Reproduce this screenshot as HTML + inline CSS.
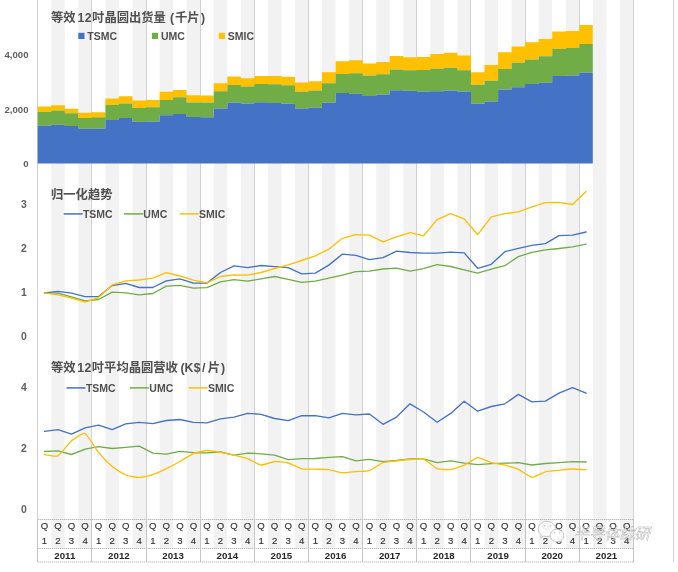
<!DOCTYPE html>
<html lang="zh-CN"><head><meta charset="utf-8"><title>晶圆出货量与营收趋势</title>
<style>
html,body{margin:0;padding:0;background:#fff}
body{width:678px;height:572px;overflow:hidden}
svg{display:block}
text{font-family:"Liberation Sans","Noto Sans CJK SC",sans-serif}
.ttl{font-size:12.3px;font-weight:700;fill:#505050}
.lg{font-size:10.5px;font-weight:700;fill:#505050}
.yl{font-size:9.6px;font-weight:700;fill:#5f5f5f;text-anchor:end}
.qx{font-size:9.6px;fill:#333;stroke:#333;stroke-width:.15;text-anchor:middle}
.yr{font-size:9.7px;font-weight:700;fill:#262626;text-anchor:middle}
.ln{fill:none;stroke-width:1.35;stroke-linejoin:round;stroke-linecap:round}
.ax{stroke:#a0a0a0;stroke-width:1;stroke-dasharray:1 1;fill:none}
.wm{font-family:"Noto Sans CJK SC","Liberation Sans",sans-serif;font-size:15.2px;font-weight:400;fill:#fff;stroke:#9e9e9e;stroke-width:.45;opacity:.92}
</style></head><body>
<svg width="678" height="572" viewBox="0 0 678 572">
<rect width="678" height="572" fill="#fff"/>

<g fill="#f2f2f2">
<rect x="51.2" y="0" width="13.5" height="548"/>
<rect x="78.3" y="0" width="13.5" height="548"/>
<rect x="105.4" y="0" width="13.5" height="548"/>
<rect x="132.5" y="0" width="13.5" height="548"/>
<rect x="159.6" y="0" width="13.5" height="548"/>
<rect x="186.6" y="0" width="13.5" height="548"/>
<rect x="213.7" y="0" width="13.5" height="548"/>
<rect x="240.8" y="0" width="13.5" height="548"/>
<rect x="267.9" y="0" width="13.5" height="548"/>
<rect x="295" y="0" width="13.5" height="548"/>
<rect x="322" y="0" width="13.5" height="548"/>
<rect x="349.1" y="0" width="13.5" height="548"/>
<rect x="376.2" y="0" width="13.5" height="548"/>
<rect x="403.3" y="0" width="13.5" height="548"/>
<rect x="430.4" y="0" width="13.5" height="548"/>
<rect x="457.4" y="0" width="13.5" height="548"/>
<rect x="484.5" y="0" width="13.5" height="548"/>
<rect x="511.6" y="0" width="13.5" height="548"/>
<rect x="538.7" y="0" width="13.5" height="548"/>
<rect x="565.8" y="0" width="13.5" height="548"/>
<rect x="592.8" y="0" width="13.5" height="548"/>
<rect x="619.9" y="0" width="13.5" height="548"/>
</g>
<g stroke="#d2d2d2" stroke-width="1">
<line x1="37.5" y1="0" x2="37.5" y2="519"/>
<line x1="91.5" y1="0" x2="91.5" y2="519"/>
<line x1="146.5" y1="0" x2="146.5" y2="519"/>
<line x1="200.5" y1="0" x2="200.5" y2="519"/>
<line x1="254.5" y1="0" x2="254.5" y2="519"/>
<line x1="308.5" y1="0" x2="308.5" y2="519"/>
<line x1="362.5" y1="0" x2="362.5" y2="519"/>
<line x1="416.5" y1="0" x2="416.5" y2="519"/>
<line x1="470.5" y1="0" x2="470.5" y2="519"/>
<line x1="525.5" y1="0" x2="525.5" y2="519"/>
<line x1="579.5" y1="0" x2="579.5" y2="519"/>
<line x1="633.5" y1="0" x2="633.5" y2="519"/>
<line x1="673.5" y1="0" x2="673.5" y2="562"/>
</g>
<polygon fill="#FFC000" points="37.7,106.6 51.2,106.6 51.2,105.3 64.8,105.3 64.8,108.8 78.3,108.8 78.3,112.8 91.9,112.8 91.9,112.3 105.4,112.3 105.4,98.6 118.9,98.6 118.9,96.3 132.5,96.3 132.5,100.6 146,100.6 146,99.9 159.6,99.9 159.6,91.7 173.1,91.7 173.1,90 186.6,90 186.6,95.3 200.2,95.3 200.2,95.4 213.7,95.4 213.7,83.3 227.3,83.3 227.3,76.6 240.8,76.6 240.8,78.2 254.3,78.2 254.3,76 267.9,76 267.9,76 281.4,76 281.4,76.7 295,76.7 295,82.5 308.5,82.5 308.5,81.2 322,81.2 322,72.3 335.6,72.3 335.6,61.3 349.1,61.3 349.1,60.2 362.7,60.2 362.7,63.4 376.2,63.4 376.2,61.9 389.7,61.9 389.7,55.9 403.3,55.9 403.3,57.3 416.8,57.3 416.8,57 430.4,57 430.4,54 443.9,54 443.9,52.7 457.4,52.7 457.4,55.6 471,55.6 471,72.2 484.5,72.2 484.5,64.9 498.1,64.9 498.1,52.3 511.6,52.3 511.6,46.4 525.1,46.4 525.1,42.2 538.7,42.2 538.7,38.9 552.2,38.9 552.2,31.6 565.8,31.6 565.8,30.9 579.3,30.9 579.3,25 592.8,25 592.8,43.9 579.3,43.9 579.3,47.9 565.8,47.9 565.8,48.9 552.2,48.9 552.2,56.2 538.7,56.2 538.7,59.5 525.1,59.5 525.1,62.8 511.6,62.8 511.6,68.9 498.1,68.9 498.1,80.8 484.5,80.8 484.5,84.8 471,84.8 471,70.2 457.4,70.2 457.4,67.7 443.9,67.7 443.9,68.8 430.4,68.8 430.4,69.9 416.8,69.9 416.8,70.3 403.3,70.3 403.3,69.5 389.7,69.5 389.7,74.2 376.2,74.2 376.2,75.5 362.7,75.5 362.7,73.2 349.1,73.2 349.1,73.9 335.6,73.9 335.6,83.2 322,83.2 322,90.5 308.5,90.5 308.5,91.8 295,91.8 295,85.2 281.4,85.2 281.4,84.3 267.9,84.3 267.9,83.9 254.3,83.9 254.3,86.6 240.8,86.6 240.8,84.9 227.3,84.9 227.3,91.2 213.7,91.2 213.7,102.5 200.2,102.5 200.2,102.6 186.6,102.6 186.6,97.3 173.1,97.3 173.1,99.9 159.6,99.9 159.6,107.2 146,107.2 146,107.9 132.5,107.9 132.5,103.6 118.9,103.6 118.9,104.9 105.4,104.9 105.4,117.2 91.9,117.2 91.9,117.9 78.3,117.9 78.3,113.2 64.8,113.2 64.8,110.6 51.2,110.6 51.2,111.9 37.7,111.9"/>
<polygon fill="#70AD47" points="37.7,111.9 51.2,111.9 51.2,110.6 64.8,110.6 64.8,113.2 78.3,113.2 78.3,117.9 91.9,117.9 91.9,117.2 105.4,117.2 105.4,104.9 118.9,104.9 118.9,103.6 132.5,103.6 132.5,107.9 146,107.9 146,107.2 159.6,107.2 159.6,99.9 173.1,99.9 173.1,97.3 186.6,97.3 186.6,102.6 200.2,102.6 200.2,102.5 213.7,102.5 213.7,91.2 227.3,91.2 227.3,84.9 240.8,84.9 240.8,86.6 254.3,86.6 254.3,83.9 267.9,83.9 267.9,84.3 281.4,84.3 281.4,85.2 295,85.2 295,91.8 308.5,91.8 308.5,90.5 322,90.5 322,83.2 335.6,83.2 335.6,73.9 349.1,73.9 349.1,73.2 362.7,73.2 362.7,75.5 376.2,75.5 376.2,74.2 389.7,74.2 389.7,69.5 403.3,69.5 403.3,70.3 416.8,70.3 416.8,69.9 430.4,69.9 430.4,68.8 443.9,68.8 443.9,67.7 457.4,67.7 457.4,70.2 471,70.2 471,84.8 484.5,84.8 484.5,80.8 498.1,80.8 498.1,68.9 511.6,68.9 511.6,62.8 525.1,62.8 525.1,59.5 538.7,59.5 538.7,56.2 552.2,56.2 552.2,48.9 565.8,48.9 565.8,47.9 579.3,47.9 579.3,43.9 592.8,43.9 592.8,72.7 579.3,72.7 579.3,75.4 565.8,75.4 565.8,76.1 552.2,76.1 552.2,82.7 538.7,82.7 538.7,84 525.1,84 525.1,87.3 511.6,87.3 511.6,89.4 498.1,89.4 498.1,101.4 484.5,101.4 484.5,103.8 471,103.8 471,91.4 457.4,91.4 457.4,90.5 443.9,90.5 443.9,91.2 430.4,91.2 430.4,91.5 416.8,91.5 416.8,90.8 403.3,90.8 403.3,90.2 389.7,90.2 389.7,94.4 376.2,94.4 376.2,96.1 362.7,96.1 362.7,93.8 349.1,93.8 349.1,93.1 335.6,93.1 335.6,102.4 322,102.4 322,107.7 308.5,107.7 308.5,108.4 295,108.4 295,103.8 281.4,103.8 281.4,102.9 267.9,102.9 267.9,102.3 254.3,102.3 254.3,103.5 240.8,103.5 240.8,102.5 227.3,102.5 227.3,108.5 213.7,108.5 213.7,117.3 200.2,117.3 200.2,116.9 186.6,116.9 186.6,113.9 173.1,113.9 173.1,115.2 159.6,115.2 159.6,121.4 146,121.4 146,121.8 132.5,121.8 132.5,118 118.9,118 118.9,119.9 105.4,119.9 105.4,128.8 91.9,128.8 91.9,128.8 78.3,128.8 78.3,126.1 64.8,126.1 64.8,124.8 51.2,124.8 51.2,125.8 37.7,125.8"/>
<polygon fill="#4472C4" points="37.7,125.8 51.2,125.8 51.2,124.8 64.8,124.8 64.8,126.1 78.3,126.1 78.3,128.8 91.9,128.8 91.9,128.8 105.4,128.8 105.4,119.9 118.9,119.9 118.9,118 132.5,118 132.5,121.8 146,121.8 146,121.4 159.6,121.4 159.6,115.2 173.1,115.2 173.1,113.9 186.6,113.9 186.6,116.9 200.2,116.9 200.2,117.3 213.7,117.3 213.7,108.5 227.3,108.5 227.3,102.5 240.8,102.5 240.8,103.5 254.3,103.5 254.3,102.3 267.9,102.3 267.9,102.9 281.4,102.9 281.4,103.8 295,103.8 295,108.4 308.5,108.4 308.5,107.7 322,107.7 322,102.4 335.6,102.4 335.6,93.1 349.1,93.1 349.1,93.8 362.7,93.8 362.7,96.1 376.2,96.1 376.2,94.4 389.7,94.4 389.7,90.2 403.3,90.2 403.3,90.8 416.8,90.8 416.8,91.5 430.4,91.5 430.4,91.2 443.9,91.2 443.9,90.5 457.4,90.5 457.4,91.4 471,91.4 471,103.8 484.5,103.8 484.5,101.4 498.1,101.4 498.1,89.4 511.6,89.4 511.6,87.3 525.1,87.3 525.1,84 538.7,84 538.7,82.7 552.2,82.7 552.2,76.1 565.8,76.1 565.8,75.4 579.3,75.4 579.3,72.7 592.8,72.7 592.8,163.5 37.7,163.5"/>
<polyline class="ln" stroke="#70AD47" points="44.5,292.9 58,293.1 71.5,296.9 85.1,300.8 98.6,299.5 112.2,292.2 125.7,292.8 139.2,294.8 152.8,293.5 166.3,286.2 179.9,285.3 193.4,288.2 206.9,287.6 220.5,281.8 234,279.6 247.6,281.2 261.1,278.8 274.6,276.5 288.2,279.4 301.7,282.4 315.3,281.1 328.8,278.1 342.3,275.1 355.9,271.7 369.4,271.1 383,269 396.5,268.1 410,271.1 423.6,268.7 437.1,264.7 450.7,266.5 464.2,269.9 477.7,273.1 491.3,269.2 504.8,265.7 518.4,256.6 531.9,252.4 545.4,249.9 559,248.5 572.5,246.9 586.1,244.1"/>
<polyline class="ln" stroke="#4472C4" points="44.5,292.9 58,291.3 71.5,293.1 85.1,296.6 98.6,296.6 112.2,285.6 125.7,283.4 139.2,287.5 152.8,287.5 166.3,280.9 179.9,278.9 193.4,283.1 206.9,283.1 220.5,272.5 234,265.9 247.6,267.6 261.1,265.5 274.6,266.6 288.2,267.7 301.7,273.8 315.3,273.1 328.8,265.1 342.3,254.2 355.9,255.4 369.4,259.6 383,257.7 396.5,251.2 410,252.5 423.6,253.1 437.1,253.1 450.7,252.2 464.2,252.9 477.7,268.3 491.3,264.3 504.8,251.7 518.4,248.3 531.9,245.3 545.4,243.6 559,235.7 572.5,235.2 586.1,232"/>
<polyline class="ln" stroke="#FFC000" points="44.5,292.9 58,294.9 71.5,298.2 85.1,302.2 98.6,297.5 112.2,284.9 125.7,280.8 139.2,280 152.8,278.2 166.3,272.7 179.9,276 193.4,280.2 206.9,282.8 220.5,276.5 234,274.8 247.6,275.2 261.1,272.5 274.6,268.5 288.2,264.9 301.7,260.5 315.3,255.8 328.8,249.2 342.3,238.3 355.9,234.6 369.4,235.1 383,241.9 396.5,236.9 410,232.6 423.6,235.8 437.1,219.6 450.7,213.7 464.2,218.9 477.7,234.7 491.3,216.8 504.8,213.7 518.4,211.9 531.9,206.8 545.4,202.7 559,202.4 572.5,204.5 586.1,191.5"/>
<polyline class="ln" stroke="#4472C4" points="44.5,431.4 58,429.6 71.5,434.1 85.1,427.9 98.6,425.1 112.2,429.6 125.7,423.8 139.2,422.3 152.8,423.7 166.3,420.5 179.9,419.5 193.4,422.3 206.9,422.8 220.5,418.9 234,417.1 247.6,413.3 261.1,414.3 274.6,418.5 288.2,420.7 301.7,415.7 315.3,415.7 328.8,417.9 342.3,413.3 355.9,414.8 369.4,414 383,424.3 396.5,417.1 410,403.8 423.6,412 437.1,422.3 450.7,413.4 464.2,401.3 477.7,411.2 491.3,406.5 504.8,403.8 518.4,394.4 531.9,401.9 545.4,401.1 559,393.2 572.5,387.7 586.1,393.2"/>
<polyline class="ln" stroke="#70AD47" points="44.5,451.5 58,450.8 71.5,454.5 85.1,449.2 98.6,446.6 112.2,448.5 125.7,447.3 139.2,446.1 152.8,453.1 166.3,454.1 179.9,451.3 193.4,452.7 206.9,452.8 220.5,452 234,455.2 247.6,453.1 261.1,453.8 274.6,455.2 288.2,459.7 301.7,458.7 315.3,458.5 328.8,457.3 342.3,456.6 355.9,460.8 369.4,459.3 383,461.6 396.5,460.5 410,458.9 423.6,458.9 437.1,462.7 450.7,460.8 464.2,463.2 477.7,464.7 491.3,463.6 504.8,463.2 518.4,462.7 531.9,465 545.4,463.5 559,462.6 572.5,461.7 586.1,462"/>
<path class="ln" stroke="#FFC000" d="M44.5,454.5 C45.6,454.6,55.8,457,58,455.9 C60.3,454.8,69.3,442.7,71.5,440.8 C73.8,438.9,82.8,432.5,85.1,433.5 C87.3,434.5,96.4,449.9,98.6,452.7 C100.9,455.5,109.9,464.7,112.2,466.6 C114.4,468.5,123.5,474.1,125.7,475 C128,475.9,137,477.4,139.2,477.4 C141.5,477.4,150.5,475.3,152.8,474.6 C155,473.9,164.1,469.8,166.3,468.7 C168.6,467.6,177.6,462.8,179.9,461.5 C182.1,460.2,191.2,454.5,193.4,453.6 C195.7,452.7,204.7,450.6,206.9,450.5 C209.2,450.4,218.2,452,220.5,452.4 C222.7,452.8,231.8,454.7,234,455.2 C236.3,455.7,245.3,457.9,247.6,458.7 C249.8,459.5,258.9,464.8,261.1,465 C263.4,465.2,272.4,461.7,274.6,461.5 C276.9,461.3,285.9,462.4,288.2,463 C290.4,463.6,299.5,468.3,301.7,468.8 C304,469.3,313,469.1,315.3,469.2 C317.5,469.3,326.6,469.4,328.8,469.7 C331.1,470,340.1,472.5,342.3,472.7 C344.6,472.9,353.6,471.8,355.9,471.6 C358.1,471.4,367.2,471.3,369.4,470.6 C371.7,469.9,380.7,463.5,383,462.7 C385.2,461.9,394.3,461.1,396.5,460.8 C398.8,460.5,407.8,459.6,410,459.5 C412.3,459.4,421.3,458.4,423.6,459.2 C425.8,460,434.9,467.7,437.1,468.6 C439.4,469.5,448.4,469.8,450.7,469.5 C452.9,469.2,462,466.2,464.2,465.2 C466.5,464.2,475.5,457.9,477.7,457.7 C480,457.5,489,462.1,491.3,462.7 C493.5,463.3,502.6,464.6,504.8,465.2 C507.1,465.8,516.1,468.3,518.4,469.3 C520.6,470.3,529.7,477.1,531.9,477.3 C534.2,477.5,543.2,472.4,545.4,471.8 C547.7,471.2,556.7,470.5,559,470.3 C561.2,470.1,570.3,469,572.5,469 C574.8,469,584.9,469.8,586.1,469.9"/>
<text class="ttl" x="51" y="21.5">等效<tspan dx="1.9" letter-spacing=".3">12</tspan><tspan dx=".3">吋晶圆出货量</tspan><tspan dx=".8"> (</tspan><tspan dx=".7">千片</tspan><tspan dx="1.5">)</tspan></text>
<text class="ttl" x="51" y="198.5">归一化趋势</text>
<text class="ttl" x="51" y="371.5">等效<tspan dx="1.7" letter-spacing=".3">12</tspan><tspan dx=".2">吋平均晶圆营收</tspan><tspan dx="-.8"> (</tspan><tspan letter-spacing=".4">K$</tspan><tspan dx=".8">/</tspan><tspan dx="2.5">片</tspan><tspan dx=".8">)</tspan></text>
<rect x="78.3" y="32.8" width="6.2" height="6.2" fill="#4472C4"/>
<text class="lg" x="87.3" y="39.6">TSMC</text>
<rect x="151.9" y="32.8" width="6.2" height="6.2" fill="#70AD47"/>
<text class="lg" x="160.9" y="39.6">UMC</text>
<rect x="218.8" y="32.8" width="6.2" height="6.2" fill="#FFC000"/>
<text class="lg" x="227.8" y="39.6">SMIC</text>
<line x1="63.7" y1="213.9" x2="82.7" y2="213.9" stroke="#4472C4" stroke-width="1.5"/>
<text class="lg" x="82.9" y="217.7">TSMC</text>
<line x1="124.1" y1="213.9" x2="143.1" y2="213.9" stroke="#70AD47" stroke-width="1.5"/>
<text class="lg" x="143.3" y="217.7">UMC</text>
<line x1="179.8" y1="213.9" x2="198.8" y2="213.9" stroke="#FFC000" stroke-width="1.5"/>
<text class="lg" x="199" y="217.7">SMIC</text>
<line x1="66.5" y1="387.9" x2="85.5" y2="387.9" stroke="#4472C4" stroke-width="1.5"/>
<text class="lg" x="85.9" y="391.7">TSMC</text>
<line x1="129.9" y1="387.9" x2="148.9" y2="387.9" stroke="#70AD47" stroke-width="1.5"/>
<text class="lg" x="149.3" y="391.7">UMC</text>
<line x1="188.6" y1="387.9" x2="207.6" y2="387.9" stroke="#FFC000" stroke-width="1.5"/>
<text class="lg" x="208" y="391.7">SMIC</text>
<text class="yl" x="28.5" y="58.3">4,000</text>
<text class="yl" x="28.5" y="112.5">2,000</text>
<text class="yl" x="28.5" y="166.7">0</text>
<text class="yl" x="26.8" y="208.3" style="font-size:10.4px">3</text>
<text class="yl" x="26.8" y="252.2" style="font-size:10.4px">2</text>
<text class="yl" x="26.8" y="296" style="font-size:10.4px">1</text>
<text class="yl" x="26.8" y="340" style="font-size:10.4px">0</text>
<text class="yl" x="26.8" y="390.6" style="font-size:10.4px">4</text>
<text class="yl" x="26.8" y="452" style="font-size:10.4px">2</text>
<text class="yl" x="26.8" y="513.3" style="font-size:10.4px">0</text>
<g class="ax">
<line x1="37.7" y1="519.5" x2="634" y2="519.5"/>
<line x1="37.7" y1="548.5" x2="634" y2="548.5"/>
<line x1="37.7" y1="562" x2="634" y2="562"/>
<line x1="37.5" y1="519" x2="37.5" y2="562" stroke="#c6c6c6" stroke-dasharray="none"/>
<line x1="91.5" y1="519" x2="91.5" y2="562" stroke="#c6c6c6" stroke-dasharray="none"/>
<line x1="146.5" y1="519" x2="146.5" y2="562" stroke="#c6c6c6" stroke-dasharray="none"/>
<line x1="200.5" y1="519" x2="200.5" y2="562" stroke="#c6c6c6" stroke-dasharray="none"/>
<line x1="254.5" y1="519" x2="254.5" y2="562" stroke="#c6c6c6" stroke-dasharray="none"/>
<line x1="308.5" y1="519" x2="308.5" y2="562" stroke="#c6c6c6" stroke-dasharray="none"/>
<line x1="362.5" y1="519" x2="362.5" y2="562" stroke="#c6c6c6" stroke-dasharray="none"/>
<line x1="416.5" y1="519" x2="416.5" y2="562" stroke="#c6c6c6" stroke-dasharray="none"/>
<line x1="470.5" y1="519" x2="470.5" y2="562" stroke="#c6c6c6" stroke-dasharray="none"/>
<line x1="525.5" y1="519" x2="525.5" y2="562" stroke="#c6c6c6" stroke-dasharray="none"/>
<line x1="579.5" y1="519" x2="579.5" y2="562" stroke="#c6c6c6" stroke-dasharray="none"/>
<line x1="633.5" y1="519" x2="633.5" y2="562" stroke="#c6c6c6" stroke-dasharray="none"/>
</g>
<text class="qx" x="44.5" y="529.2">Q</text>
<text class="qx" x="44.5" y="544.1">1</text>
<text class="qx" x="58" y="529.2">Q</text>
<text class="qx" x="58" y="544.1">2</text>
<text class="qx" x="71.5" y="529.2">Q</text>
<text class="qx" x="71.5" y="544.1">3</text>
<text class="qx" x="85.1" y="529.2">Q</text>
<text class="qx" x="85.1" y="544.1">4</text>
<text class="qx" x="98.6" y="529.2">Q</text>
<text class="qx" x="98.6" y="544.1">1</text>
<text class="qx" x="112.2" y="529.2">Q</text>
<text class="qx" x="112.2" y="544.1">2</text>
<text class="qx" x="125.7" y="529.2">Q</text>
<text class="qx" x="125.7" y="544.1">3</text>
<text class="qx" x="139.2" y="529.2">Q</text>
<text class="qx" x="139.2" y="544.1">4</text>
<text class="qx" x="152.8" y="529.2">Q</text>
<text class="qx" x="152.8" y="544.1">1</text>
<text class="qx" x="166.3" y="529.2">Q</text>
<text class="qx" x="166.3" y="544.1">2</text>
<text class="qx" x="179.9" y="529.2">Q</text>
<text class="qx" x="179.9" y="544.1">3</text>
<text class="qx" x="193.4" y="529.2">Q</text>
<text class="qx" x="193.4" y="544.1">4</text>
<text class="qx" x="206.9" y="529.2">Q</text>
<text class="qx" x="206.9" y="544.1">1</text>
<text class="qx" x="220.5" y="529.2">Q</text>
<text class="qx" x="220.5" y="544.1">2</text>
<text class="qx" x="234" y="529.2">Q</text>
<text class="qx" x="234" y="544.1">3</text>
<text class="qx" x="247.6" y="529.2">Q</text>
<text class="qx" x="247.6" y="544.1">4</text>
<text class="qx" x="261.1" y="529.2">Q</text>
<text class="qx" x="261.1" y="544.1">1</text>
<text class="qx" x="274.6" y="529.2">Q</text>
<text class="qx" x="274.6" y="544.1">2</text>
<text class="qx" x="288.2" y="529.2">Q</text>
<text class="qx" x="288.2" y="544.1">3</text>
<text class="qx" x="301.7" y="529.2">Q</text>
<text class="qx" x="301.7" y="544.1">4</text>
<text class="qx" x="315.3" y="529.2">Q</text>
<text class="qx" x="315.3" y="544.1">1</text>
<text class="qx" x="328.8" y="529.2">Q</text>
<text class="qx" x="328.8" y="544.1">2</text>
<text class="qx" x="342.3" y="529.2">Q</text>
<text class="qx" x="342.3" y="544.1">3</text>
<text class="qx" x="355.9" y="529.2">Q</text>
<text class="qx" x="355.9" y="544.1">4</text>
<text class="qx" x="369.4" y="529.2">Q</text>
<text class="qx" x="369.4" y="544.1">1</text>
<text class="qx" x="383" y="529.2">Q</text>
<text class="qx" x="383" y="544.1">2</text>
<text class="qx" x="396.5" y="529.2">Q</text>
<text class="qx" x="396.5" y="544.1">3</text>
<text class="qx" x="410" y="529.2">Q</text>
<text class="qx" x="410" y="544.1">4</text>
<text class="qx" x="423.6" y="529.2">Q</text>
<text class="qx" x="423.6" y="544.1">1</text>
<text class="qx" x="437.1" y="529.2">Q</text>
<text class="qx" x="437.1" y="544.1">2</text>
<text class="qx" x="450.7" y="529.2">Q</text>
<text class="qx" x="450.7" y="544.1">3</text>
<text class="qx" x="464.2" y="529.2">Q</text>
<text class="qx" x="464.2" y="544.1">4</text>
<text class="qx" x="477.7" y="529.2">Q</text>
<text class="qx" x="477.7" y="544.1">1</text>
<text class="qx" x="491.3" y="529.2">Q</text>
<text class="qx" x="491.3" y="544.1">2</text>
<text class="qx" x="504.8" y="529.2">Q</text>
<text class="qx" x="504.8" y="544.1">3</text>
<text class="qx" x="518.4" y="529.2">Q</text>
<text class="qx" x="518.4" y="544.1">4</text>
<text class="qx" x="531.9" y="529.2">Q</text>
<text class="qx" x="531.9" y="544.1">1</text>
<text class="qx" x="545.4" y="529.2">Q</text>
<text class="qx" x="545.4" y="544.1">2</text>
<text class="qx" x="559" y="529.2">Q</text>
<text class="qx" x="559" y="544.1">3</text>
<text class="qx" x="572.5" y="529.2">Q</text>
<text class="qx" x="572.5" y="544.1">4</text>
<text class="qx" x="586.1" y="529.2">Q</text>
<text class="qx" x="586.1" y="544.1">1</text>
<text class="qx" x="599.6" y="529.2">Q</text>
<text class="qx" x="599.6" y="544.1">2</text>
<text class="qx" x="613.1" y="529.2">Q</text>
<text class="qx" x="613.1" y="544.1">3</text>
<text class="qx" x="626.7" y="529.2">Q</text>
<text class="qx" x="626.7" y="544.1">4</text>
<text class="yr" x="64.8" y="558.6">2011</text>
<text class="yr" x="118.9" y="558.6">2012</text>
<text class="yr" x="173.1" y="558.6">2013</text>
<text class="yr" x="227.3" y="558.6">2014</text>
<text class="yr" x="281.4" y="558.6">2015</text>
<text class="yr" x="335.6" y="558.6">2016</text>
<text class="yr" x="389.7" y="558.6">2017</text>
<text class="yr" x="443.9" y="558.6">2018</text>
<text class="yr" x="498.1" y="558.6">2019</text>
<text class="yr" x="552.2" y="558.6">2020</text>
<text class="yr" x="606.4" y="558.6">2021</text>
<g opacity=".9">
<g fill="#fff" stroke="#b0b0b0" stroke-width=".8">
<path d="M546.8,521.4c-4.8,0-8.6,3.4-8.6,7.6c0,2.4,1.2,4.5,3.200000000000001,5.9l-0.8,2.7l3.1-1.6c1,0.3,2,0.5,3.1,0.5c4.8,0,8.6-3.4,8.6-7.600000000000001s-3.8-7.5-8.6-7.5z"/>
<path d="M557,529.3c-3.8,0-6.8,2.8-6.8,6.2s3,6.2,6.8,6.2c0.8,0,1.6-0.1,2.3-0.4l2.6,1.4l-0.6-2.3c1.5-1.1,2.5-2.9,2.5-4.9c0-3.4-3-6.2-6.8-6.2z"/>
</g>
<g fill="#c9c9c9"><circle cx="544.6" cy="525.8" r="1"/><circle cx="550.4" cy="525.8" r="1"/><circle cx="554.6" cy="532.6" r=".85"/><circle cx="559.5" cy="532.6" r=".85"/></g>
<text class="wm" x="575.6" y="539.3" transform="translate(0,533) skewX(-11) translate(0,-533)">半导体综研</text>
</g>
</svg></body></html>
